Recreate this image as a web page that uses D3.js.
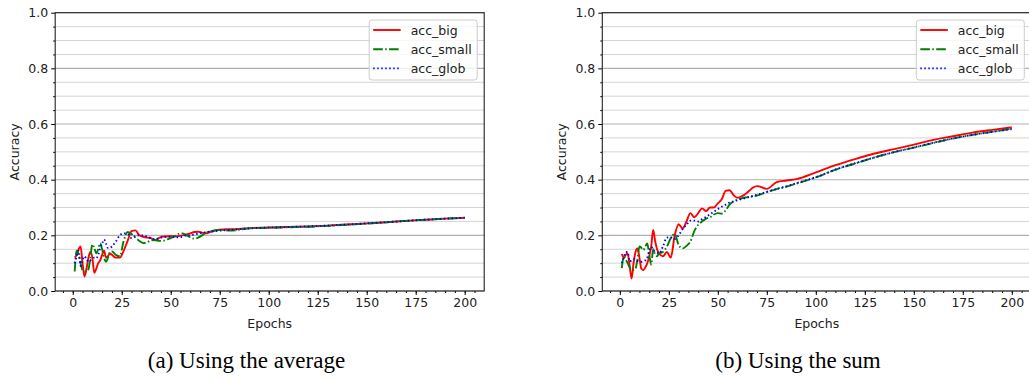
<!DOCTYPE html>
<html lang="en">
<head>
<meta charset="utf-8">
<title>Accuracy curves</title>
<script src="https://d3js.org/d3.v7.min.js"></script>
<style>
  body { margin: 0; background: #fff; }
  svg { display: block; }
</style>
</head>
<body>
<script type="text/javascript">

var epochs = [1,2,3,4,5,6,7,8,9,10,11,12,13,14,15,16,17,18,19,20,
              22,24,26,28,30,32,34,36,38,40,42,44,46,48,50,
              52,54,56,58,60,62,64,66,68,70,
              75,80,85,90,100,110,120,130,140,150,160,170,180,190,200];

// (a) Using the average
var avgBig   = [0.12,0.13,0.15,0.16,0.10,0.052,0.08,0.12,0.14,0.12,0.065,0.08,0.10,0.11,0.13,0.145,0.12,0.125,0.135,0.13,
                0.12,0.12,0.145,0.18,0.215,0.218,0.20,0.195,0.192,0.19,0.182,0.19,0.196,0.196,0.197,
                0.196,0.197,0.20,0.203,0.207,0.212,0.213,0.21,0.207,0.212,
                0.22,0.222,0.223,0.226,0.228,0.23,0.232,0.235,0.239,0.243,0.247,0.252,0.256,0.26,0.263];
var avgSmall = [0.07,0.145,0.13,0.10,0.075,0.07,0.072,0.078,0.12,0.168,0.155,0.135,0.15,0.172,0.15,0.12,0.105,0.12,0.14,0.142,
                0.13,0.125,0.18,0.212,0.205,0.192,0.18,0.172,0.175,0.182,0.183,0.18,0.18,0.185,0.19,
                0.197,0.205,0.207,0.20,0.193,0.188,0.192,0.20,0.21,0.214,
                0.22,0.217,0.22,0.225,0.227,0.229,0.231,0.234,0.238,0.242,0.247,0.252,0.256,0.26,0.263];
var avgGlob  = [0.10,0.125,0.145,0.09,0.11,0.125,0.115,0.105,0.11,0.115,0.12,0.118,0.13,0.155,0.17,0.185,0.17,0.155,0.155,0.16,
                0.178,0.20,0.207,0.205,0.19,0.198,0.20,0.20,0.195,0.19,0.186,0.19,0.193,0.195,0.195,
                0.194,0.193,0.195,0.20,0.20,0.203,0.206,0.209,0.212,0.213,
                0.217,0.219,0.222,0.225,0.228,0.23,0.232,0.235,0.239,0.243,0.247,0.252,0.256,0.26,0.263];

// (b) Using the sum
var sumBig   = [0.133,0.12,0.13,0.135,0.09,0.045,0.10,0.14,0.153,0.12,0.08,0.075,0.085,0.10,0.125,0.16,0.219,0.18,0.15,0.135,
                0.125,0.14,0.12,0.20,0.24,0.225,0.25,0.28,0.265,0.28,0.297,0.287,0.30,0.30,0.315,
                0.33,0.36,0.362,0.345,0.335,0.34,0.348,0.36,0.372,0.377,
                0.367,0.391,0.397,0.402,0.426,0.452,0.474,0.494,0.51,0.526,0.543,0.556,0.569,0.579,0.588];
var sumSmall = [0.082,0.123,0.112,0.10,0.085,0.077,0.075,0.08,0.115,0.16,0.155,0.147,0.16,0.171,0.13,0.095,0.15,0.13,0.125,0.135,
                0.14,0.16,0.19,0.205,0.165,0.153,0.162,0.178,0.215,0.238,0.25,0.26,0.265,0.275,0.28,
                0.278,0.29,0.31,0.322,0.328,0.333,0.336,0.338,0.34,0.343,
                0.356,0.366,0.375,0.386,0.408,0.436,0.458,0.48,0.499,0.515,0.532,0.548,0.561,0.572,0.583];
var sumGlob  = [0.10,0.12,0.14,0.14,0.106,0.11,0.115,0.112,0.108,0.105,0.105,0.108,0.11,0.12,0.145,0.158,0.15,0.14,0.138,0.135,
                0.16,0.192,0.193,0.187,0.20,0.222,0.238,0.253,0.253,0.25,0.258,0.266,0.276,0.285,0.295,
                0.303,0.31,0.318,0.322,0.326,0.33,0.334,0.338,0.342,0.346,
                0.356,0.367,0.376,0.387,0.409,0.436,0.459,0.48,0.499,0.516,0.533,0.548,0.561,0.572,0.582];

var seriesNames = ["acc_big", "acc_small", "acc_glob"];
var xTicks = [0, 25, 50, 75, 100, 125, 150, 175, 200];
var yTicks = [0.0, 0.2, 0.4, 0.6, 0.8, 1.0];
var captions = ["(a) Using the average", "(b) Using the sum"];

var W = 1029, H = 379;
var colors = ["#ff0000", "#008000", "#0000ff"];
var dashes = [null, "9.6,2.4,1.5,2.4", "1.5,2.5"];
var lw = 1.9;
var fontSans = "DejaVu Sans, sans-serif";

var svg = d3.select("body").append("svg")
    .attr("width", W)
    .attr("height", H);

function drawPanel(left, right, data, caption, captionX) {
  var top = 12.7, bottom = 291;
  var x = d3.scaleLinear().domain([-8.95, 209.95]).range([left, right]);
  var y = d3.scaleLinear().domain([0, 1]).range([bottom, top]);
  var g = svg.append("g");

  var clipId = "clip" + Math.round(left);
  g.append("clipPath").attr("id", clipId)
    .append("rect").attr("x", left).attr("y", top)
    .attr("width", right - left).attr("height", bottom - top);

  // horizontal grid, minor every 0.05 and major every 0.2
  var minorY = d3.range(0, 1.0001, 0.05).filter(function(v) {
    return Math.abs(v * 5 - Math.round(v * 5)) > 1e-6;
  });
  g.selectAll(".gminor").data(minorY).enter().append("line")
    .attr("x1", left).attr("x2", right)
    .attr("y1", function(d) { return y(d); })
    .attr("y2", function(d) { return y(d); })
    .attr("stroke", "#d4d4d4").attr("stroke-width", 1);
  g.selectAll(".gmajor").data(yTicks).enter().append("line")
    .attr("x1", left).attr("x2", right)
    .attr("y1", function(d) { return y(d); })
    .attr("y2", function(d) { return y(d); })
    .attr("stroke", "#b0b0b0").attr("stroke-width", 1.1);

  // lines
  var line = d3.line()
    .x(function(d) { return x(d[0]); })
    .y(function(d) { return y(d[1]); })
    .curve(d3.curveMonotoneX);
  var lines = g.append("g").attr("clip-path", "url(#" + clipId + ")");
  data.forEach(function(vals, i) {
    var pts = epochs.map(function(e, k) { return [e, vals[k]]; });
    lines.append("path")
      .attr("d", line(pts))
      .attr("fill", "none")
      .attr("stroke", colors[i])
      .attr("stroke-width", lw)
      .attr("stroke-dasharray", dashes[i])
      .attr("stroke-linejoin", "round");
  });

  // axes
  var xAxis = g.append("g").attr("transform", "translate(0," + bottom + ")")
    .call(d3.axisBottom(x).tickValues(xTicks).tickSize(4).tickPadding(3).tickFormat(d3.format("d")));
  g.append("g").attr("transform", "translate(0," + bottom + ")")
    .call(d3.axisBottom(x).tickValues(d3.range(-5, 210, 5)).tickSize(2).tickFormat(""));
  var yAxis = g.append("g").attr("transform", "translate(" + left + ",0)")
    .call(d3.axisLeft(y).tickValues(yTicks).tickSize(4).tickPadding(3).tickFormat(d3.format(".1f")));
  g.append("g").attr("transform", "translate(" + left + ",0)")
    .call(d3.axisLeft(y).tickValues(minorY).tickSize(2).tickFormat(""));
  g.selectAll(".domain").remove();
  g.selectAll(".tick line").attr("stroke", "#000").attr("stroke-width", 1);
  g.selectAll(".tick text").attr("font-family", fontSans).attr("font-size", "12.5px").attr("fill", "#222");

  // frame
  g.append("rect").attr("x", left).attr("y", top)
    .attr("width", right - left).attr("height", bottom - top)
    .attr("fill", "none").attr("stroke", "#222").attr("stroke-width", 1.1);

  // axis labels
  g.append("text").text("Epochs")
    .attr("x", (left + right) / 2).attr("y", 327.5)
    .attr("text-anchor", "middle")
    .attr("font-family", fontSans).attr("font-size", "12.5px").attr("fill", "#222");
  g.append("text").text("Accuracy")
    .attr("transform", "translate(" + (left - 40.5) + "," + ((top + bottom) / 2) + ") rotate(-90)")
    .attr("text-anchor", "middle")
    .attr("dominant-baseline", "central")
    .attr("font-family", fontSans).attr("font-size", "12.5px").attr("fill", "#222");

  // legend
  var lgRight = right - 7, lgW = 108, lgLeft = lgRight - lgW;
  var lg = g.append("g");
  lg.append("rect").attr("x", lgLeft).attr("y", 20).attr("width", lgW).attr("height", 60)
    .attr("rx", 3).attr("ry", 3)
    .attr("fill", "#fff").attr("fill-opacity", 0.8)
    .attr("stroke", "#cccccc").attr("stroke-width", 1);
  seriesNames.forEach(function(name, i) {
    var ly = 30 + i * 19.2;
    lg.append("line")
      .attr("x1", lgLeft + 4).attr("x2", lgLeft + 31.5)
      .attr("y1", ly).attr("y2", ly)
      .attr("stroke", colors[i]).attr("stroke-width", lw)
      .attr("stroke-dasharray", dashes[i]);
    lg.append("text").text(name)
      .attr("x", lgLeft + 41.5).attr("y", ly)
      .attr("dominant-baseline", "central")
      .attr("font-family", fontSans).attr("font-size", "12.5px").attr("fill", "#222");
  });

  // caption
  g.append("text").text(caption)
    .attr("x", captionX).attr("y", 367.5)
    .attr("text-anchor", "middle")
    .attr("font-family", "Liberation Serif, Times New Roman, serif")
    .attr("font-size", "23px").attr("fill", "#000");
}

drawPanel(55.2, 484.2, [avgBig, avgSmall, avgGlob], captions[0], 246.5);
drawPanel(602.3, 1031.3, [sumBig, sumSmall, sumGlob], captions[1], 798);

</script>
</body>
</html>
